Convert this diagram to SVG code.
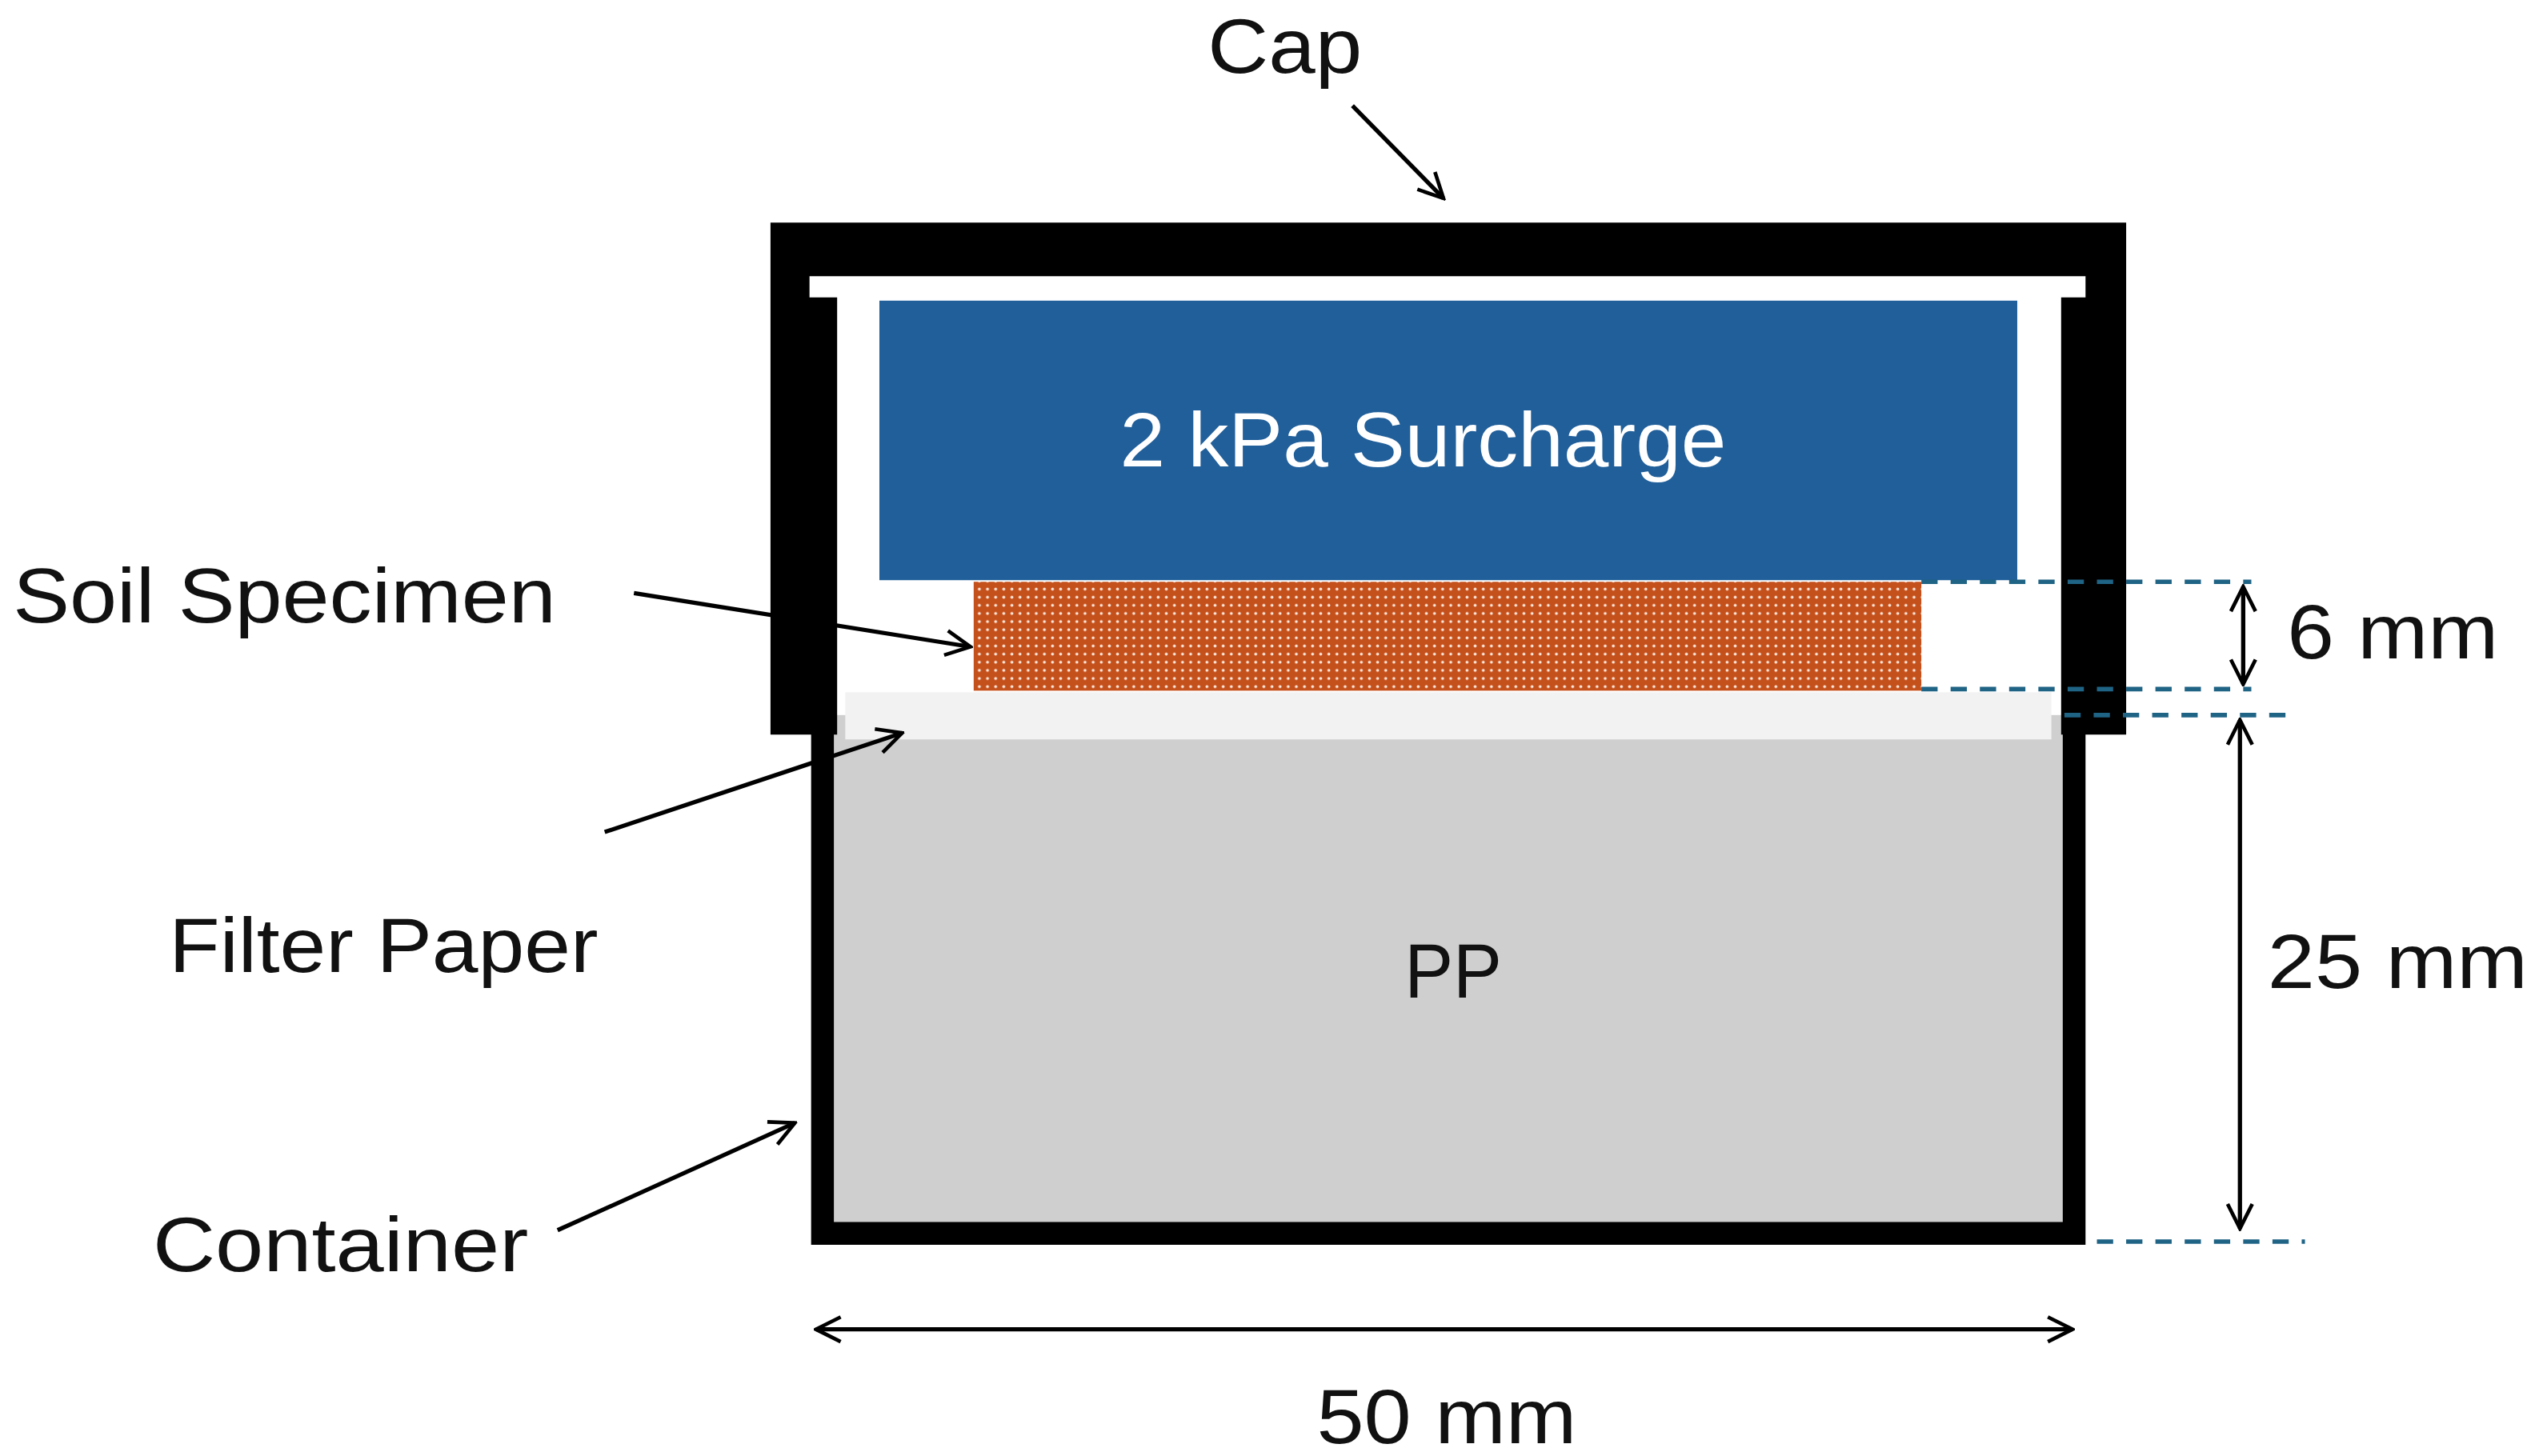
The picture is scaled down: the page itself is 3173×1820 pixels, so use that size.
<svg xmlns="http://www.w3.org/2000/svg" width="3173" height="1820" viewBox="0 0 3173 1820">
<defs>
<style>
.t{font-family:"Liberation Sans",Arial,sans-serif;font-size:47px;fill:#111}
.ld{stroke:#000;stroke-width:2.6;fill:none;marker-end:url(#ah)}
.dash{stroke:#1f6385;stroke-width:2.8;stroke-dasharray:10,8;fill:none}
</style>
<marker id="ah" viewBox="0 0 12 12" refX="11" refY="6" markerWidth="7" markerHeight="7" orient="auto-start-reverse" markerUnits="strokeWidth">
<path d="M1,1 L11,6 L1,11" fill="none" stroke="#000" stroke-width="1.5"/>
</marker>
<pattern id="dots" width="5" height="5" patternUnits="userSpaceOnUse">
<rect width="5" height="5" fill="#c4501c"/>
<circle cx="2.5" cy="2.5" r="0.9" fill="#fbe6d8"/>
</pattern>
</defs>
<rect width="3173" height="1820" fill="#fff"/>
<g transform="scale(2.0314)">
<g id="container">
<rect x="506" y="440" width="770" height="319" fill="#d0cfd0"/>
<path d="M506,440 V759 H1276 V440" fill="none" stroke="#000" stroke-width="14"/>
</g>
<g id="filter-paper"><rect x="520" y="426" width="742" height="29" fill="#f2f2f2"/></g>
<g id="cap">
<path d="M474,137 H1308 V452 H1268 V183 H1283 V170 H498 V183 H515 V452 H474 Z" fill="#000"/>
</g>
<g id="surcharge">
<rect x="541" y="185" width="700" height="172" fill="#215f9a"/>
<text x="689" y="287" textLength="373" lengthAdjust="spacingAndGlyphs" class="t" style="fill:#fff">2 kPa Surcharge</text>
</g>
<g id="soil"><rect x="599" y="358" width="583" height="67" fill="url(#dots)"/></g>
<g id="pp"><text x="864" y="614" textLength="60" lengthAdjust="spacingAndGlyphs" class="t">PP</text></g>
<g id="connectors">
<path class="dash" d="M1182,358 H1385 M1182,424 H1385 M1270,440 H1410 M1290,764 H1418"/>
<path class="ld" d="M832,65 L888,122"/>
<path class="ld" d="M390,365 L597,398"/>
<path class="ld" d="M372,512 L555,451"/>
<path class="ld" d="M343,757 L489,691"/>
<path class="ld" style="marker-start:url(#ah)" d="M1380,361 V421"/>
<path class="ld" style="marker-start:url(#ah)" d="M1378,443 V756"/>
<path class="ld" style="marker-start:url(#ah)" d="M502,818 H1275"/>
</g>
<g id="labels">
<text x="743" y="45" textLength="95" lengthAdjust="spacingAndGlyphs" class="t">Cap</text>
<text x="8" y="383" textLength="334" lengthAdjust="spacingAndGlyphs" class="t">Soil Specimen</text>
<text x="104" y="598" textLength="264" lengthAdjust="spacingAndGlyphs" class="t">Filter Paper</text>
<text x="94" y="782" textLength="231" lengthAdjust="spacingAndGlyphs" class="t">Container</text>
<text x="1407" y="405" textLength="130" lengthAdjust="spacingAndGlyphs" class="t">6 mm</text>
<text x="1395" y="608" textLength="160" lengthAdjust="spacingAndGlyphs" class="t">25 mm</text>
<text x="810" y="888" textLength="160" lengthAdjust="spacingAndGlyphs" class="t">50 mm</text>
</g>
</g>
</svg>
